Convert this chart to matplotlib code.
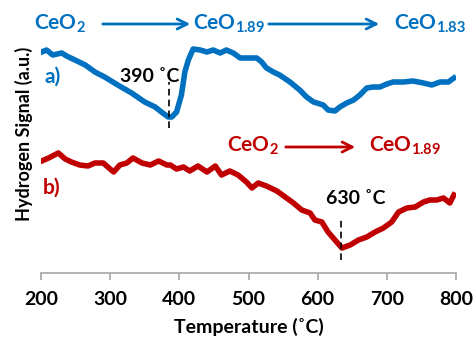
import matplotlib.pyplot as plt

# fontes (Lato é parecida com a Calibri do original)
plt.rcParams['font.family'] = ['Lato', 'DejaVu Sans']
plt.rcParams['font.weight'] = 'bold'
plt.rcParams['axes.labelweight'] = 'bold'

# curva a) - azul
temp_a = [201, 208, 217, 230, 237, 249, 264, 278, 292, 311, 331, 350, 365, 376,
          384, 389, 396, 403, 408, 413, 420, 430, 440, 449, 459, 468, 478, 488,
          497, 512, 519, 526, 536, 545, 560, 574, 584, 594, 599, 608, 615, 625,
          632, 642, 652, 661, 671, 680, 690, 700, 709, 724, 738, 753, 765, 777,
          789, 797]
signal_a = [22.1, 22.3, 21.8, 22.0, 21.7, 21.3, 20.8, 20.1, 19.6, 18.8, 18.0, 17.1,
            16.6, 16.0, 15.6, 15.6, 16.1, 17.8, 20.1, 21.3, 22.4, 22.3, 22.1, 22.3,
            22.0, 22.3, 22.0, 21.5, 21.5, 21.5, 21.1, 20.5, 20.1, 19.8, 19.1, 18.3,
            17.6, 17.1, 17.0, 16.8, 16.3, 16.2, 16.6, 17.0, 17.3, 17.8, 18.5, 18.6,
            18.6, 18.9, 19.1, 19.1, 19.2, 19.0, 18.8, 19.1, 19.1, 19.5]

# curva b) - vermelha
temp_b = [201, 211, 225, 235, 244, 256, 268, 278, 290, 305, 314, 324, 333, 346,
          358, 370, 382, 387, 396, 406, 415, 427, 440, 452, 461, 473, 485, 497,
          505, 514, 526, 541, 553, 565, 577, 589, 596, 606, 615, 625, 635, 647,
          659, 671, 683, 695, 707, 717, 729, 741, 753, 762, 772, 782, 791, 797]
signal_b = [11.2, 11.5, 12.0, 11.4, 11.1, 10.8, 10.7, 11.0, 11.0, 10.1, 10.8, 11.0,
            11.5, 11.0, 10.8, 11.2, 10.8, 10.8, 10.4, 10.6, 10.2, 10.7, 10.1, 10.7,
            9.8, 10.2, 9.8, 9.1, 8.5, 9.0, 8.7, 8.2, 7.6, 7.0, 6.3, 6.0, 5.3, 5.1,
            4.1, 3.3, 2.5, 2.8, 3.3, 3.6, 4.1, 4.5, 5.1, 6.1, 6.5, 6.6, 7.1, 7.3,
            7.3, 7.5, 7.0, 7.8]

x_ticks = [200, 300, 400, 500, 600, 700, 800]

azul = '#0070C0'
vermelho = '#C00000'
fs = 14


def px(x):
    # posição horizontal em pixels -> temperatura
    return 200 + (x - 41) / 0.6917


fig = plt.figure(figsize=(4.76, 3.44), dpi=100)
ax = fig.add_axes([41 / 476, 71 / 344, 415 / 476, 273 / 344])

ax.plot(temp_a, signal_a, color=azul, lw=4, solid_joinstyle='round')
ax.plot(temp_b, signal_b, color=vermelho, lw=4, solid_joinstyle='round')

# linhas tracejadas nos mínimos
ax.plot([385, 385], [14.5, 19.1], color='black', lw=1.2, ls=(0, (4, 2.5)))
ax.plot([634, 634], [1.3, 5.3], color='black', lw=1.2, ls=(0, (4, 2.5)))

ax.text(px(150), 19.6, '390 ˚C', ha='center', va='center', fontsize=fs, fontweight='bold')
ax.text(px(356), 7.5, '630 ˚C', ha='center', va='center', fontsize=fs, fontweight='bold')
ax.text(px(53), 19.6, 'a)', ha='center', va='center', fontsize=fs + 1, color=azul,
        fontweight='bold')
ax.text(px(52), 8.55, 'b)', ha='center', va='center', fontsize=fs + 1, color=vermelho,
        fontweight='bold')

# rótulos das fases
seta = dict(arrowstyle='->', color=azul, lw=2, mutation_scale=18)
ax.text(px(34), 24.9, r'CeO$_\mathregular{2}$', ha='left', va='center', fontsize=fs + 1,
        color=azul, fontweight='bold')
ax.annotate('', xy=(px(193), 24.9), xytext=(px(100), 24.9), arrowprops=seta,
            annotation_clip=False)
ax.text(px(193), 24.9, r'CeO$_\mathregular{1.89}$', ha='left', va='center', fontsize=fs + 1,
        color=azul, fontweight='bold')
ax.annotate('', xy=(px(382), 24.9), xytext=(px(266), 24.9), arrowprops=seta,
            annotation_clip=False)
ax.text(px(394), 24.9, r'CeO$_\mathregular{1.83}$', ha='left', va='center', fontsize=fs + 1,
        color=azul, fontweight='bold')

seta_r = dict(arrowstyle='->', color=vermelho, lw=2, mutation_scale=18)
ax.text(px(227), 12.7, r'CeO$_\mathregular{2}$', ha='left', va='center', fontsize=fs + 1,
        color=vermelho, fontweight='bold')
ax.annotate('', xy=(px(358), 12.6), xytext=(px(283), 12.6), arrowprops=seta_r)
ax.text(px(369), 12.7, r'CeO$_\mathregular{1.89}$', ha='left', va='center', fontsize=fs + 1,
        color=vermelho, fontweight='bold')

ax.set_xlim(200, 800)
ax.set_ylim(0, 27.3)
ax.set_xticks(x_ticks)
ax.set_yticks([])
for s in ['left', 'right', 'top']:
    ax.spines[s].set_visible(False)
ax.spines['bottom'].set_color('#A6A6A6')
ax.spines['bottom'].set_linewidth(1.2)
ax.tick_params(axis='x', direction='out', length=5, width=1.2, color='#A6A6A6',
               labelsize=fs, pad=8)
for lbl in ax.get_xticklabels():
    lbl.set_fontweight('bold')
ax.set_xlabel('Temperature (˚C)', fontsize=fs, fontweight='bold', labelpad=7)
ax.set_ylabel('Hydrogen Signal (a.u.)', fontsize=fs - 1, fontweight='bold')
ax.yaxis.set_label_coords(-0.02, 0.51)

fig.savefig('out.png', dpi=100)
